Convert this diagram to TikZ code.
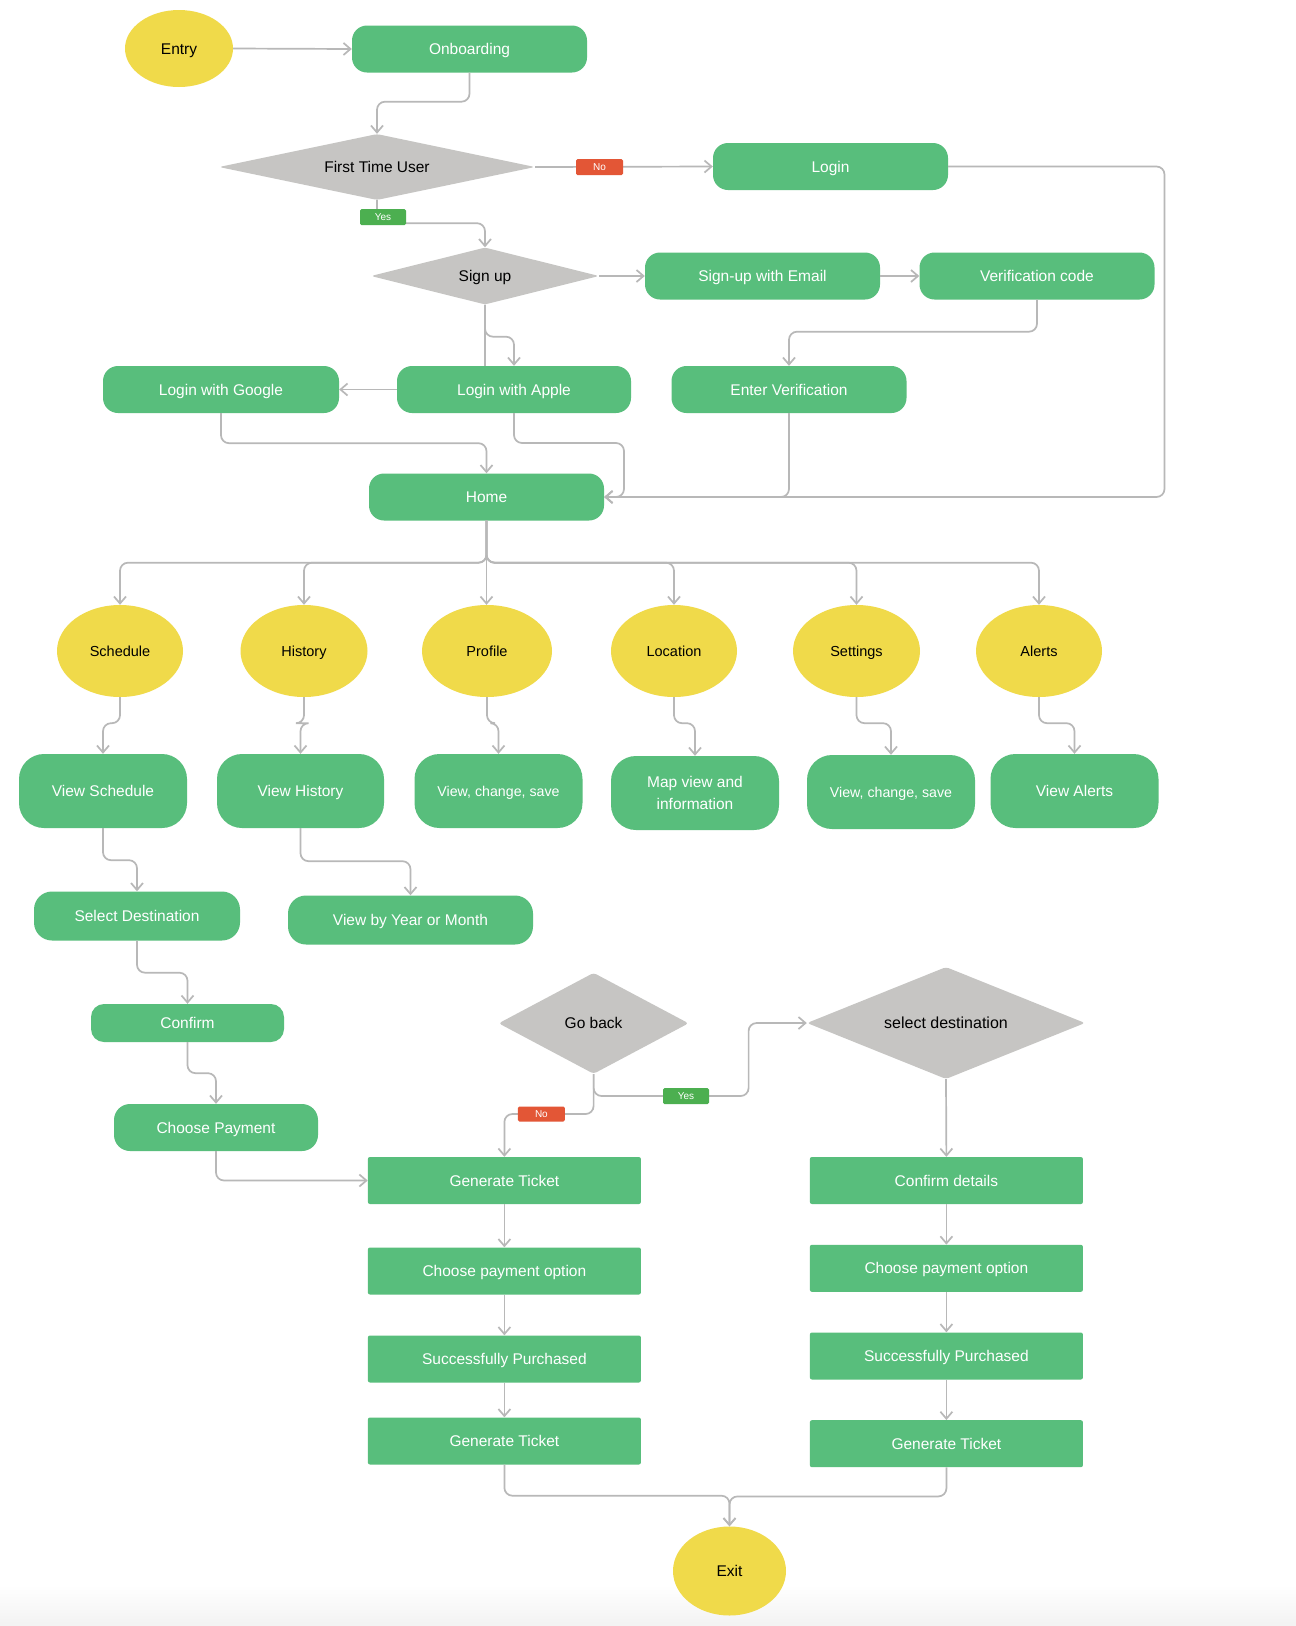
\documentclass[tikz,border=0pt]{standalone}
\usepackage{fontspec}
\setmainfont{Liberation Sans}
\usetikzlibrary{shapes.geometric,arrows.meta}
\definecolor{boxg}{HTML}{58BE7C}
\definecolor{yel}{HTML}{F0DA4A}
\definecolor{dgray}{HTML}{C6C5C3}
\definecolor{linec}{HTML}{B8B8B8}
\definecolor{nored}{HTML}{E35636}
\definecolor{yesg}{HTML}{4CAF50}
\newcommand{\fmain}{\fontsize{15.5pt}{19pt}\selectfont}
\newcommand{\fcirc}{\fontsize{14.5pt}{18pt}\selectfont}
\newcommand{\fsmall}{\fontsize{14.2pt}{18pt}\selectfont}
\newcommand{\ftag}{\fontsize{10pt}{12pt}\selectfont}
\tikzset{
  tc/.style={text height=11pt, text depth=0pt},
  pill/.style={fill=boxg, text=white, font=\fmain, inner sep=0pt, rounded corners=15pt, minimum width=235pt, minimum height=47pt, tc},
  bigbox/.style={fill=boxg, text=white, font=\fmain, inner sep=0pt, rounded corners=25pt, minimum width=168pt, minimum height=74pt, align=center},
  rectbox/.style={fill=boxg, text=white, font=\fmain, inner sep=0pt, rounded corners=2pt, minimum width=273pt, minimum height=47pt, tc},
  oval/.style={ellipse, fill=yel, text=black, inner sep=0pt, font=\fcirc, text height=10.4pt, text depth=0pt},
  dia/.style={diamond, fill=dgray, text=black, inner sep=0pt, rounded corners=3pt, font=\fmain, tc},
  tag/.style={text=white, font=\ftag, inner sep=0pt, rounded corners=1.5pt, minimum width=46pt, minimum height=16pt, text height=7.2pt, text depth=0pt},
  conn/.style={draw=linec, line width=1.7pt, rounded corners=8pt, -{Straight Barb[length=7pt,width=12pt]}},
  plain/.style={draw=linec, line width=1.7pt, rounded corners=8pt}
}
\begin{document}
\begin{tikzpicture}[x=1pt,y=-1pt]
\useasboundingbox (0,0) rectangle (1296,1626);
\fill[white] (0,0) rectangle (1296,1626);
\shade[top color=white, bottom color=black!5] (0,1585) rectangle (1296,1626);

% nodes
\node[oval, font=\fmain, text height=11pt, minimum width=108pt, minimum height=77pt] (entry) at (179,48.5) {Entry};
\node[pill] (onb) at (469.5,49) {Onboarding};
\node[dia, minimum width=316pt, minimum height=66pt, aspect=4.8] (ftu) at (377,167) {First Time User};
\node[pill] (login) at (830.5,166.5) {Login};
\node[dia, minimum width=228pt, minimum height=57pt, aspect=4] (signup) at (485,276) {Sign up};
\node[pill] (email) at (762.5,276) {Sign-up with Email};
\node[pill] (vc) at (1037,276) {Verification code};
\node[pill, minimum width=236pt] (google) at (221,389.5) {Login with Google};
\node[pill, minimum width=234pt] (apple) at (514,389.5) {Login with Apple};
\node[pill] (ev) at (789,389.5) {Enter Verification};
\node[pill] (home) at (486.5,497) {Home};

\node[oval, minimum width=126pt, minimum height=92pt] (schedule) at (120,651) {Schedule};
\node[oval, minimum width=127pt, minimum height=92pt] (history) at (304,651) {History};
\node[oval, minimum width=130pt, minimum height=92pt] (profile) at (487,651) {Profile};
\node[oval, minimum width=126pt, minimum height=92pt] (location) at (674,651) {Location};
\node[oval, minimum width=127pt, minimum height=92pt] (settings) at (856.5,651) {Settings};
\node[oval, minimum width=126pt, minimum height=92pt] (alerts) at (1039,651) {Alerts};

\node[bigbox, tc] (vsched) at (103,791) {View Schedule};
\node[bigbox, tc, minimum width=167pt] (vhist) at (300.5,791) {View History};
\node[bigbox, font=\fsmall, text height=10.2pt, text depth=0pt] (vprof) at (498.5,791) {View, change, save};
\node[bigbox, font=\fontsize{15.5pt}{22.5pt}\selectfont] (vmap) at (695,793) {Map view and\\information};
\node[bigbox, font=\fsmall, text height=10.2pt, text depth=0pt] (vset) at (891,792) {View, change, save};
\node[bigbox, tc] (valerts) at (1074.5,791) {View Alerts};

\node[pill, minimum width=206pt, minimum height=49pt, rounded corners=18pt] (seldest) at (137,916) {Select Destination};
\node[pill, minimum width=245pt, minimum height=49pt, rounded corners=18pt] (vyear) at (410.5,920) {View by Year or Month};
\node[pill, minimum width=193pt, minimum height=38pt, rounded corners=13pt] (confirm) at (187.5,1023) {Confirm};
\node[pill, minimum width=204pt, minimum height=47pt, rounded corners=16pt] (choosepay) at (216,1127.5) {Choose Payment};

\node[dia, minimum width=190pt, minimum height=101pt, aspect=1.88] (goback) at (593.6,1023.3) {Go back};
\node[dia, font=\fontsize{16pt}{19pt}\selectfont, text height=11.5pt, minimum width=278pt, minimum height=112pt, aspect=2.48] (sdest) at (946,1023) {select destination};

\node[rectbox] (gt1) at (504.4,1180.5) {Generate Ticket};
\node[rectbox] (cpo1) at (504.4,1271) {Choose payment option};
\node[rectbox] (sp1) at (504.4,1359) {Successfully Purchased};
\node[rectbox] (gt2) at (504.4,1441) {Generate Ticket};
\node[rectbox] (cd) at (946.4,1180.5) {Confirm details};
\node[rectbox] (cpo2) at (946.4,1268.3) {Choose payment option};
\node[rectbox] (sp2) at (946.4,1356) {Successfully Purchased};
\node[rectbox] (gt3) at (946.4,1443.7) {Generate Ticket};

\node[oval, font=\fmain, text height=11pt, minimum width=113pt, minimum height=89pt] (exit) at (729.5,1571) {Exit};

% connectors
\draw[conn] (entry.east) -- (onb.west);
\draw[conn] (onb.south) -- ++(0,29) -| (ftu.north);
\draw[conn] (ftu.south) -- ++(0,23) -| (signup.north);
\draw[conn] (ftu.east) -- (login.west);
\draw[conn] (signup.east) -- (email.west);
\draw[conn] (email.east) -- (vc.west);
\draw[conn] (vc.south) -- ++(0,32) -| (ev.north);
\draw[plain] (signup.south) -- (signup.south |- apple.north);
\draw[conn] (signup.south) -- ++(0,32) -| (apple.north);
\draw[conn] (apple.west) -- (google.east);
\draw[conn] (google.south) -- ++(0,30) -| (home.north);
\draw[conn] (apple.south) |- (624,443) |- (home.east);
\draw[conn] (login.east) -| (1164.5,497) -- (home.east);
\draw[conn] (ev.south) |- (home.east);

\foreach \c in {schedule,history,location,settings,alerts}
  \draw[conn] (home.south) -- ++(0,42) -| (\c.north);
\draw[conn] (home.south) -- (home.south |- profile.north);

\draw[conn] (schedule.south) -- ++(0,26) -| (vsched.north);
\draw[conn] (history.south) -- ++(0,26) -| (vhist.north);
\draw[conn] (profile.south) -- ++(0,26) -| (vprof.north);
\draw[conn] (location.south) -- ++(0,26) -| (vmap.north);
\draw[conn] (settings.south) -- ++(0,26) -| (vset.north);
\draw[conn] (alerts.south) -- ++(0,26) -| (valerts.north);

\draw[conn] (vsched.south) -- ++(0,32) -| (seldest.north);
\draw[conn] (vhist.south) -- ++(0,33) -| (vyear.north);
\draw[conn] (seldest.south) -- ++(0,32) -| (confirm.north);
\draw[conn] (confirm.south) -- ++(0,31) -| (choosepay.north);
\draw[conn] (choosepay.south) |- (gt1.west);

\draw[conn] (goback.south) -- ++(0,22) -| (748.6,1023) -- (sdest.west);
\draw[conn] (goback.south) -- ++(0,40) -| (gt1.north);
\draw[conn] (sdest.south) -- (cd.north);

\draw[conn] (gt1.south) -- (cpo1.north);
\draw[conn] (cpo1.south) -- (sp1.north);
\draw[conn] (sp1.south) -- (gt2.north);
\draw[conn] (cd.south) -- (cpo2.north);
\draw[conn] (cpo2.south) -- (sp2.north);
\draw[conn] (sp2.south) -- (gt3.north);
\draw[conn] (gt2.south) -- ++(0,31) -| (exit.north);
\draw[conn] (gt3.south) -- ++(0,29) -| (exit.north);

% tags
\node[tag, fill=yesg] (yes1) at (383,217) {Yes};
\node[tag, fill=nored, minimum width=47pt] (no1) at (599.5,167) {No};
\node[tag, fill=yesg] (yes2) at (686,1096) {Yes};
\node[tag, fill=nored, minimum width=47pt, minimum height=15pt] (no2) at (541.4,1114) {No};
\end{tikzpicture}
\end{document}
